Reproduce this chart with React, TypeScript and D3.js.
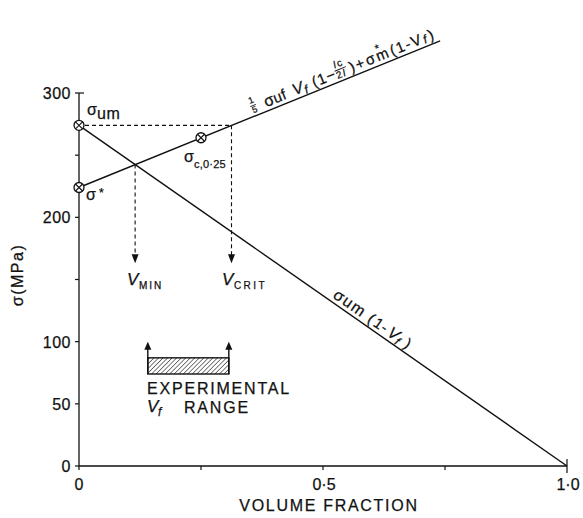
import React, { useEffect, useRef } from 'react';
import * as d3 from 'd3';

// axis ticks
const xTicks = [0, 0.25, 0.5, 0.75, 1.0];
const xTickLabels = ["0", "", "0·5", "", "1·0"];
const yTicks = [0, 50, 100, 150, 200, 250, 300];
const yTickLabels = ["0", "50", "100", "", "200", "", "300"];

// sigma_um (1 - Vf)
const matrixLine = [{ vf: 0, s: 274 }, { vf: 1.0, s: 0 }];
// 1/5 sigma_uf Vf (1 - lc/2l) + sigma*_m (1 - Vf)
const compositeLine = [{ vf: 0, s: 224 }, { vf: 0.74, s: 342 }];
// circled points: sigma_um, sigma*, sigma_c,0.25
const markedPoints = [{ vf: 0, s: 274 }, { vf: 0, s: 224 }, { vf: 0.25, s: 264 }];

const vMin = 0.115;
const vMinStress = 242.5;
const vCrit = 0.3125;
const sigmaUm = 274;
const arrowStop = 163;

const expRange = [0.141, 0.307];
const expBox = [74, 87];
const expArrowTop = 100;

const FONT = "'Liberation Sans', Arial, sans-serif";
const INK = "#111";

const App: React.FC = () => {
  const ref = useRef<SVGSVGElement | null>(null);

  useEffect(() => {
    if (!ref.current) return;
    const svg = d3.select(ref.current);
    svg.selectAll("*").remove();

    const x = d3.scaleLinear().domain([0, 1]).range([79, 567]);
    const y = d3.scaleLinear().domain([0, 300]).range([466, 93]);

    const defs = svg.append("defs");
    const pat = defs.append("pattern")
      .attr("id", "hatch")
      .attr("patternUnits", "userSpaceOnUse")
      .attr("width", 3.2)
      .attr("height", 3.2)
      .attr("patternTransform", "rotate(45)");
    pat.append("line")
      .attr("x1", 0).attr("y1", 0).attr("x2", 0).attr("y2", 3.2)
      .attr("stroke", INK).attr("stroke-width", 1.1);

    const g = svg.append("g")
      .attr("font-family", FONT)
      .attr("fill", INK)
      .attr("stroke-width", 0.25);

    const text = (parent: any, str: string, px: number, py: number, size: number, extra: Record<string, any> = {}) => {
      const t = parent.append("text")
        .attr("x", px).attr("y", py)
        .attr("font-size", size)
        .attr("stroke", INK)
        .attr("stroke-width", 0.25)
        .text(str);
      Object.entries(extra).forEach(([k, v]) => t.attr(k, v));
      return t;
    };

    // axes
    g.append("line")
      .attr("x1", x(0)).attr("x2", x(0)).attr("y1", y(0)).attr("y2", y(300))
      .attr("stroke", INK).attr("stroke-width", 1.3);
    g.append("line")
      .attr("x1", x(0)).attr("x2", x(1)).attr("y1", y(0)).attr("y2", y(0))
      .attr("stroke", INK).attr("stroke-width", 1.3);

    yTicks.forEach((t, i) => {
      const top = t === 300;
      g.append("line")
        .attr("x1", x(0) - 4).attr("x2", x(0) + (top ? 5 : 0))
        .attr("y1", y(t)).attr("y2", y(t))
        .attr("stroke", INK).attr("stroke-width", 1.2);
      if (yTickLabels[i]) {
        text(g, yTickLabels[i], 71, y(t) + 6, 16, { "text-anchor": "end", "letter-spacing": 0.5 });
      }
    });

    xTicks.forEach((t, i) => {
      const end = t === 1;
      g.append("line")
        .attr("x1", x(t)).attr("x2", x(t))
        .attr("y1", y(0) - (end ? 7 : 0)).attr("y2", y(0) + (end ? 7 : 4))
        .attr("stroke", INK).attr("stroke-width", 1.2);
      if (xTickLabels[i]) {
        text(g, xTickLabels[i], x(t) + (t === 0 ? 0 : 1), 490, 16, { "text-anchor": "middle" });
      }
    });

    text(g, "VOLUME FRACTION", 329, 511, 16, { "text-anchor": "middle", "letter-spacing": 1.7 });
    text(g, "σ(MPa)", 0, 0, 16, {
      "text-anchor": "middle",
      "letter-spacing": 1.5,
      transform: `translate(23,275) rotate(-90)`,
    });

    // main lines
    const line = d3.line<{ vf: number; s: number }>().x(d => x(d.vf)).y(d => y(d.s));
    [matrixLine, compositeLine].forEach(data => {
      g.append("path")
        .attr("d", line(data) as string)
        .attr("fill", "none")
        .attr("stroke", INK)
        .attr("stroke-width", 1.4);
    });

    // dashed construction lines
    const dash = "4,3";
    g.append("line")
      .attr("x1", x(0) + 6).attr("x2", x(vCrit))
      .attr("y1", y(sigmaUm)).attr("y2", y(sigmaUm))
      .attr("stroke", INK).attr("stroke-width", 1.1).attr("stroke-dasharray", dash);
    const arrowDown = (vf: number, from: number) => {
      g.append("line")
        .attr("x1", x(vf)).attr("x2", x(vf))
        .attr("y1", y(from)).attr("y2", y(arrowStop) - 7)
        .attr("stroke", INK).attr("stroke-width", 1.1).attr("stroke-dasharray", dash);
      const tx = x(vf), ty = y(arrowStop);
      g.append("path")
        .attr("d", `M${tx},${ty} L${tx - 3.5},${ty - 9} L${tx + 3.5},${ty - 9} Z`)
        .attr("fill", INK);
    };
    arrowDown(vMin, vMinStress);
    arrowDown(vCrit, sigmaUm);

    // circled crosses
    markedPoints.forEach(p => {
      const cx = x(p.vf), cy = y(p.s), r = 5;
      g.append("circle")
        .attr("cx", cx).attr("cy", cy).attr("r", r)
        .attr("fill", "#fff").attr("stroke", INK).attr("stroke-width", 1.3);
      const k = r * 0.7;
      g.append("path")
        .attr("d", `M${cx - k},${cy - k} L${cx + k},${cy + k} M${cx - k},${cy + k} L${cx + k},${cy - k}`)
        .attr("stroke", INK).attr("stroke-width", 1.1);
    });

    // point labels
    text(g, "σ", 87, 115, 16);
    text(g, "um", 97, 119, 16, { "letter-spacing": 0.5 });
    text(g, "σ", 86, 200, 16);
    text(g, "*", 99, 197, 12);
    text(g, "σ", 184, 162, 16);
    text(g, "c,0·25", 194, 168, 11, { "letter-spacing": 0.2 });

    // V_MIN / V_CRIT
    text(g, "V", 127, 285, 17, { "font-style": "italic" });
    text(g, "MIN", 139, 289, 10, { "letter-spacing": 2 });
    text(g, "V", 222, 285, 17, { "font-style": "italic" });
    text(g, "CRIT", 234, 289, 10, { "letter-spacing": 2.4 });

    // experimental range box
    g.append("rect")
      .attr("x", x(expRange[0])).attr("y", y(expBox[1]))
      .attr("width", x(expRange[1]) - x(expRange[0]))
      .attr("height", y(expBox[0]) - y(expBox[1]))
      .attr("fill", "url(#hatch)")
      .attr("stroke", INK).attr("stroke-width", 1.4);
    expRange.forEach(vf => {
      const tx = x(vf), ty = y(expArrowTop);
      g.append("line")
        .attr("x1", tx).attr("x2", tx).attr("y1", y(expBox[0])).attr("y2", ty + 6)
        .attr("stroke", INK).attr("stroke-width", 1.4);
      g.append("path")
        .attr("d", `M${tx},${ty} L${tx - 3.5},${ty + 8} L${tx + 3.5},${ty + 8} Z`)
        .attr("fill", INK);
    });
    text(g, "EXPERIMENTAL", 147, 394, 16, { "letter-spacing": 1.8 });
    text(g, "V", 147, 412, 17, { "font-style": "italic" });
    text(g, "f", 158, 416, 12, { "font-style": "italic" });
    text(g, "RANGE", 184, 413, 16, { "letter-spacing": 1.8 });

    // formula along the composite line
    const along = (data: { vf: number; s: number }[], vf: number) => {
      const a = data[0], b = data[1];
      const s = a.s + (b.s - a.s) * (vf - a.vf) / (b.vf - a.vf);
      const ang = Math.atan2(y(b.s) - y(a.s), x(b.vf) - x(a.vf)) * 180 / Math.PI;
      return { px: x(vf), py: y(s), ang };
    };

    const up = along(compositeLine, 0.36);
    const fu = g.append("g").attr("transform", `translate(${up.px},${up.py}) rotate(${up.ang})`);
    const by = -4;
    text(fu, "1", 0, by - 9, 9);
    fu.append("line").attr("x1", -0.5).attr("x2", 5.5).attr("y1", by - 6.5).attr("y2", by - 6.5)
      .attr("stroke", INK).attr("stroke-width", 0.9);
    text(fu, "5", 0, by + 1, 9);
    text(fu, "σ", 14, by, 16);
    text(fu, "uf", 24, by, 15, { "letter-spacing": 0.5 });
    text(fu, "V", 45, by, 16, { "font-style": "italic" });
    text(fu, "f", 56, by + 3, 12, { "font-style": "italic" });
    text(fu, "(1−", 66, by, 15, { "letter-spacing": 1 });
    text(fu, "l", 92, by - 10, 10, { "font-style": "italic" });
    text(fu, "c", 96, by - 10, 10);
    fu.append("line").attr("x1", 91).attr("x2", 103).attr("y1", by - 7.5).attr("y2", by - 7.5)
      .attr("stroke", INK).attr("stroke-width", 0.9);
    text(fu, "2", 91, by + 1, 10);
    text(fu, "l", 98, by + 1, 10, { "font-style": "italic" });
    text(fu, ")+σ", 106, by, 15, { "letter-spacing": 2 });
    text(fu, "*", 137, by - 9, 11);
    text(fu, "m", 135, by, 15);
    text(fu, "(1-V", 150, by, 15, { "letter-spacing": 1.5 });
    text(fu, "f", 185, by + 1, 12, { "font-style": "italic" });
    text(fu, ")", 191, by, 15);

    // formula along the matrix line
    const lo = along(matrixLine, 0.514);
    const fl = g.append("g").attr("transform", `translate(${lo.px},${lo.py}) rotate(${lo.ang})`);
    text(fl, "σ", 0, -4, 16);
    text(fl, "um", 11, -4, 16, { "letter-spacing": 1.5 });
    text(fl, "(1", 42, -4, 15, { "letter-spacing": 2 });
    text(fl, "-", 58, -4, 15);
    text(fl, "V", 66, -4, 16, { "font-style": "italic" });
    text(fl, "f", 77, -1, 12, { "font-style": "italic" });
    text(fl, ")", 86, -4, 15);
  }, []);

  return (
    <svg
      ref={ref}
      width={583}
      height={518}
      style={{ position: 'absolute', left: 0, top: 0, background: '#fff' }}
    />
  );
};

export default App;
